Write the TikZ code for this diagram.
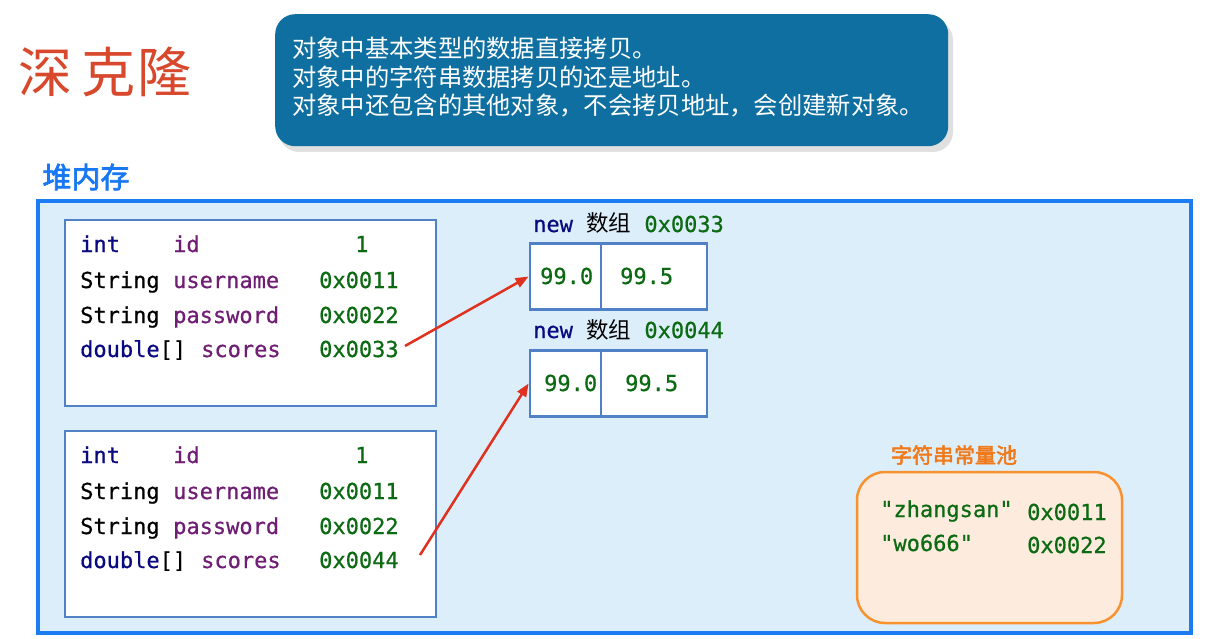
\documentclass[tikz,border=0pt]{standalone}
\usepackage{fontspec}
\newfontfamily\cjk{Noto Sans CJK SC}
\newfontfamily\cjkb[FakeBold=2.5]{Noto Sans CJK SC}
\newfontfamily\mono[FakeBold=0.6]{DejaVu Sans Mono}
\usetikzlibrary{arrows.meta}
\definecolor{heapfill}{HTML}{DDEEFB}
\definecolor{heapline}{HTML}{1C7CF2}
\definecolor{boxline}{HTML}{5080C6}
\definecolor{notefill}{HTML}{0E6FA0}
\definecolor{kwc}{HTML}{0A0A80}
\definecolor{namec}{HTML}{6F1E74}
\definecolor{valc}{HTML}{0B6A12}
\definecolor{arrowc}{HTML}{E0301E}
\definecolor{poolline}{HTML}{F7922E}
\definecolor{poolfill}{HTML}{FDEBDD}
\definecolor{poolhead}{HTML}{F07A1A}
\definecolor{titlec}{HTML}{D8482C}
\definecolor{heaptitle}{HTML}{1877F2}
\begin{document}
\begin{tikzpicture}[x=1pt,y=-1pt,
  mtxt/.style={anchor=base west, inner sep=0pt, font=\mono\fontsize{22}{26}\selectfont},
  kw/.style={mtxt, text=kwc},
  plain/.style={mtxt, text=black},
  fname/.style={mtxt, text=namec},
  val/.style={mtxt, text=valc},
  objbox/.style={draw=boxline, line width=2.8pt, fill=white, minimum width=371pt, minimum height=186pt, inner sep=0pt},
  cell/.style={draw=boxline, line width=2.8pt, fill=white, minimum height=66pt, inner sep=0pt},
  ptr/.style={draw=arrowc, line width=2.5pt, -{Triangle[length=13pt,width=10pt]}},
  notetxt/.style={anchor=base west, inner sep=0pt, text=white, font=\cjk\fontsize{24.3}{28}\selectfont}
]
\useasboundingbox (0,0) rectangle (1215,639);
\fill[white] (0,0) rectangle (1215,639);

% title
\node[text=titlec, font=\cjk\fontsize{54}{60}\selectfont, inner sep=0pt] (t1) at (45,72) {深};
\node[text=titlec, font=\cjk\fontsize{54}{60}\selectfont, inner sep=0pt] (t2) at (108,72) {克};
\node[text=titlec, font=\cjk\fontsize{54}{60}\selectfont, inner sep=0pt] (t3) at (164,72) {隆};

% note box
\fill[black, opacity=0.12, rounded corners=20pt] (279,20) rectangle (953,152);
\node[fill=notefill, rounded corners=20pt, minimum width=673pt, minimum height=132pt, inner sep=0pt, anchor=north west] (note) at (275,14) {};
\node[notetxt] (n1) at (292,58) {对象中基本类型的数据直接拷贝。};
\node[notetxt] (n2) at (292,87) {对象中的字符串数据拷贝的还是地址。};
\node[notetxt] (n3) at (292,115) {对象中还包含的其他对象，不会拷贝地址，会创建新对象。};

% heap
\node[text=heaptitle, font=\cjkb\fontsize{29}{32}\selectfont, inner sep=0pt] (heaplabel) at (86,177) {堆内存};
\node[draw=heapline, line width=3.5pt, fill=heapfill, minimum width=1153pt, minimum height=432pt, inner sep=0pt] (heap) at (614.5,417) {};

% object 1
\node[objbox] (o1) at (250.5,313) {};
\node[kw] (o1r1a) at (80,252) {int};
\node[fname] (o1r1b) at (173,252) {id};
\node[val] (o1r1c) at (355,252) {1};
\node[plain] (o1r2a) at (80,288) {String};
\node[fname] (o1r2b) at (173,288) {username};
\node[val] (h11) at (319,288) {0x0011};
\node[plain] (o1r3a) at (80,323) {String};
\node[fname] (o1r3b) at (173,323) {password};
\node[val] (h12) at (319,323) {0x0022};
\node[mtxt] (o1r4a) at (80,357) {\textcolor{kwc}{double}[]};
\node[fname] (o1r4b) at (201,357) {scores};
\node[val] (h13) at (319,357) {0x0033};

% object 2
\node[objbox] (o2) at (250.5,524) {};
\node[kw] (o2r1a) at (80,463) {int};
\node[fname] (o2r1b) at (173,463) {id};
\node[val] (o2r1c) at (355,463) {1};
\node[plain] (o2r2a) at (80,499) {String};
\node[fname] (o2r2b) at (173,499) {username};
\node[val] (h21) at (319,499) {0x0011};
\node[plain] (o2r3a) at (80,534) {String};
\node[fname] (o2r3b) at (173,534) {password};
\node[val] (h22) at (319,534) {0x0022};
\node[mtxt] (o2r4a) at (80,568) {\textcolor{kwc}{double}[]};
\node[fname] (o2r4b) at (201,568) {scores};
\node[val] (h23) at (319,568) {0x0044};

% arrays
\node[mtxt] (al1) at (533,232) {\textcolor{kwc}{new} {\cjk\fontsize{22.5}{26}\selectfont 数组} \textcolor{valc}{0x0033}};
\node[cell, minimum width=71pt] (a11) at (565.5,276.5) {};
\node[cell, minimum width=106pt] (a12) at (654,276.5) {};
\node[val] (v11) at (540,284) {99.0};
\node[val] (v12) at (620,284) {99.5};

\node[mtxt] (al2) at (533,338) {\textcolor{kwc}{new} {\cjk\fontsize{22.5}{26}\selectfont 数组} \textcolor{valc}{0x0044}};
\node[cell, minimum width=71pt] (a21) at (565.5,383.5) {};
\node[cell, minimum width=106pt] (a22) at (654,383.5) {};
\node[val] (v21) at (544,391) {99.0};
\node[val] (v22) at (625,391) {99.5};

% pointers
\coordinate (s1) at (405,346);
\coordinate (s2) at (420,555);
\draw[ptr] (s1) -- (a11.west);
\draw[ptr] (s2) -- (a21.west);

% string pool
\node[text=poolhead, font=\cjkb\fontsize{21}{24}\selectfont, inner sep=0pt] (poollabel) at (954,455) {字符串常量池};
\node[draw=poolline, line width=2.5pt, fill=poolfill, rounded corners=28pt, minimum width=265pt, minimum height=151pt, inner sep=0pt] (pool) at (989.5,547.5) {};
\node[val] (p1a) at (880,517) {"zhangsan"};
\node[val] (p1b) at (1027,520) {0x0011};
\node[val] (p2a) at (880,551) {"wo666"};
\node[val] (p2b) at (1027,553) {0x0022};
\end{tikzpicture}
\end{document}
